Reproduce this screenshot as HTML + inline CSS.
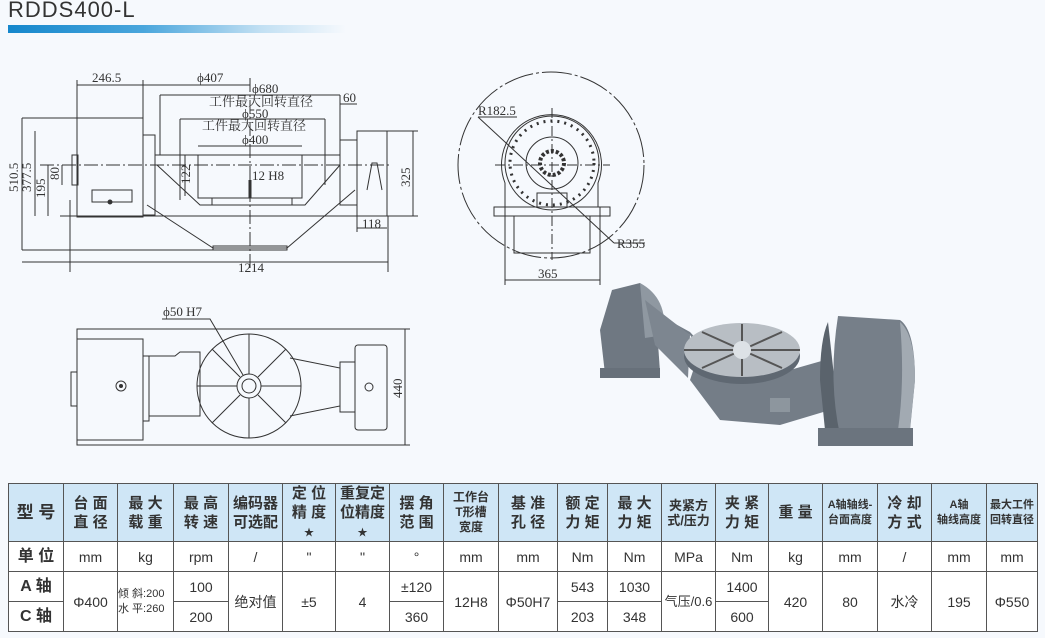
<!DOCTYPE html>
<html><head><meta charset="utf-8"><style>
html,body{margin:0;padding:0}
body{width:1045px;height:638px;background:#f6f9fd;position:relative;overflow:hidden;font-family:"Liberation Sans","Noto Sans CJK SC",sans-serif;color:#333}
.t{position:absolute;left:8px;top:-3px;font-size:22px;letter-spacing:1px;color:#333}
.bar{position:absolute;left:8px;top:25px;width:338px;height:8px;background:linear-gradient(90deg,#1587cc 0%,#4aa6dc 40%,#c2e0f3 75%,#f6f9fd 100%)}
svg{position:absolute;left:0;top:0}
table{position:absolute;left:8px;top:483px;border-collapse:collapse;table-layout:fixed}
td{border:1px solid #555;text-align:center;padding:0;font-size:14px;line-height:16px;color:#333;overflow:hidden;white-space:nowrap}
tr.h td{background:#cfe6f6;font-weight:bold;font-size:15px;height:57px;line-height:19px}
tr.h td.s{font-size:12px;line-height:15px}
.st{font-size:10px;line-height:10px}
td.f{background:#cfe6f6;font-weight:bold;font-size:16px}
tr.u td{height:29px;background:#fff}
tr.a td,tr.c td{height:29px;background:#fff}
</style></head><body>
<div class="t">RDDS400-L</div><div class="bar"></div>
<svg width="1045" height="480" viewBox="0 0 1045 480" fill="none" stroke="#333" stroke-width="1" font-family="Liberation Serif,Noto Serif CJK SC,serif" font-size="13">
<!-- front view -->
<g>
<rect x="77" y="118" width="66" height="99"/>
<rect x="72" y="155" width="6" height="30"/>
<rect x="92" y="190" width="40" height="12"/>
<circle cx="110" cy="202" r="2" fill="#333"/>
<rect x="143" y="135" width="12" height="80"/>
<line x1="155" y1="155" x2="340" y2="155"/>
<path d="M157 165 L200 205 L305 205 L340 165"/>
<path d="M147 205 L213 248 L287 248 L355 190"/>
<rect x="213" y="246" width="74" height="4"/>
<rect x="198" y="155" width="104" height="43"/>
<rect x="212" y="198" width="80" height="7"/>
<rect x="340" y="140" width="17" height="65"/>
<rect x="357" y="131" width="30" height="85"/>
<path d="M367 190 L372 163 L377 163 L382 190"/>
<line x1="60" y1="216" x2="418" y2="216"/>
<line x1="40" y1="165" x2="390" y2="165" stroke-dasharray="14 3 2 3"/>
<line x1="250" y1="78" x2="250" y2="272" stroke-dasharray="14 3 2 3"/>
<line x1="250" y1="180" x2="250" y2="198" stroke-width="3"/>
<line x1="77" y1="85" x2="143" y2="85"/><line x1="77" y1="80" x2="77" y2="118"/>
<line x1="143" y1="80" x2="143" y2="135"/>
<line x1="143" y1="85" x2="250" y2="85"/>
<line x1="160" y1="95" x2="340" y2="95"/><line x1="160" y1="95" x2="160" y2="155"/><line x1="340" y1="95" x2="340" y2="140"/>
<line x1="180" y1="119" x2="325" y2="119"/><line x1="180" y1="119" x2="180" y2="200"/><line x1="325" y1="119" x2="325" y2="185"/>
<line x1="198" y1="146" x2="302" y2="146"/>
<line x1="340" y1="104" x2="357" y2="104"/>
<line x1="22" y1="118" x2="77" y2="118"/>
<line x1="22" y1="250" x2="213" y2="250"/>
<line x1="22" y1="118" x2="22" y2="250"/><line x1="35" y1="131" x2="35" y2="216"/><line x1="48" y1="165" x2="48" y2="216"/><line x1="62" y1="165" x2="62" y2="185"/>
<line x1="185" y1="155" x2="185" y2="196"/>
<line x1="22" y1="262" x2="388" y2="262"/><line x1="388" y1="216" x2="388" y2="272"/><line x1="70" y1="200" x2="70" y2="272"/>
<line x1="413" y1="131" x2="413" y2="216"/><line x1="387" y1="131" x2="418" y2="131"/>
<line x1="357" y1="228" x2="387" y2="228"/><line x1="357" y1="216" x2="357" y2="232"/>
<g fill="#333" stroke="none">
<text x="92" y="82">246.5</text><text x="197" y="82">ϕ407</text><text x="252" y="93">ϕ680</text>
<text x="209" y="106">工件最大回转直径</text><text x="242" y="118">ϕ550</text>
<text x="202" y="130">工件最大回转直径</text><text x="242" y="144">ϕ400</text>
<text x="252" y="180">12 H8</text><text x="343" y="102">60</text>
<text x="238" y="272">1214</text><text x="362" y="228">118</text>
<text transform="translate(18,192) rotate(-90)">510.5</text>
<text transform="translate(31,192) rotate(-90)">377.5</text>
<text transform="translate(45,198) rotate(-90)">195</text>
<text transform="translate(59,180) rotate(-90)">80</text>
<text transform="translate(190,184) rotate(-90)">122</text>
<text transform="translate(410,187) rotate(-90)">325</text>
</g>
</g>
<!-- side view circle -->
<g>
<circle cx="551" cy="165" r="93" stroke-dasharray="30 3 3 3"/>
<path d="M505 183 A50 50 0 1 1 598 183 L598 207 L505 207 Z"/>
<circle cx="552" cy="163" r="47"/>
<circle cx="552" cy="163" r="26"/>
<circle cx="552" cy="163" r="42" stroke-dasharray="2 5" stroke-width="3"/>
<circle cx="552" cy="163" r="12" stroke-width="4" stroke-dasharray="3 2"/>
<rect x="494" y="207" width="116" height="9"/>
<rect x="514" y="216" width="76" height="37"/>
<rect x="537" y="193" width="30" height="14"/>
<line x1="495" y1="165" x2="610" y2="165" stroke-dasharray="10 3 2 3"/>
<line x1="552" y1="108" x2="552" y2="260" stroke-dasharray="10 3 2 3"/>
<line x1="478" y1="117" x2="614" y2="243"/><line x1="478" y1="117" x2="517" y2="117"/><line x1="614" y1="243" x2="645" y2="243"/>
<line x1="505" y1="207" x2="505" y2="285"/><line x1="600" y1="207" x2="600" y2="285"/>
<line x1="505" y1="280" x2="600" y2="280"/>
<g fill="#333" stroke="none"><text x="478" y="115">R182.5</text><text x="617" y="248">R355</text><text x="538" y="278">365</text></g>
</g>
<!-- plan view -->
<g>
<rect x="77" y="329" width="328" height="116"/>
<rect x="77" y="339" width="66" height="101"/>
<rect x="71" y="372" width="6" height="34"/>
<circle cx="121" cy="386" r="5"/><circle cx="121" cy="386" r="1.5" fill="#333"/>
<rect x="143" y="356" width="6" height="65"/>
<path d="M149 356 L175 356 L180 352 L200 352 L200 416 L149 416"/>
<path d="M290 358 L340 368 L340 406 L290 416"/>
<circle cx="249" cy="386" r="52"/>
<circle cx="249" cy="386" r="12"/><circle cx="249" cy="386" r="7"/>
<path d="M249 334 V374 M249 398 V438 M197 386 H237 M261 386 H301 M212 349 L240 377 M286 349 L258 377 M212 423 L240 395 M286 423 L258 395"/>
<rect x="340" y="362" width="15" height="50"/>
<rect x="355" y="345" width="32" height="85" rx="3"/>
<circle cx="369" cy="387" r="4"/>
<line x1="387" y1="329" x2="410" y2="329"/><line x1="387" y1="445" x2="410" y2="445"/><line x1="405" y1="329" x2="405" y2="445"/>
<path d="M162 319 L210 319 L243 375"/>
<g fill="#333" stroke="none"><text x="163" y="316">ϕ50 H7</text><text transform="translate(402,398) rotate(-90)">440</text></g>
</g>
<!-- 3D render -->
<g stroke="none">
<path d="M612 290 L640 283 L655 300 L660 372 L605 374 L600 330 Z" fill="#6f7882"/>
<path d="M640 283 Q668 298 664 335 L645 338 Z" fill="#8f98a1"/>
<path d="M650 310 L690 335 L700 350 L690 380 L720 420 L780 425 L830 410 L825 360 L790 370 L720 365 L690 332 Z" fill="#747d87"/>
<path d="M645 300 L690 335 L688 378 L655 345 Z" fill="#7d8690"/>
<ellipse cx="742" cy="356" rx="58" ry="28" fill="#5f6872"/>
<ellipse cx="742" cy="350" rx="58" ry="27" fill="#b8bec4"/>
<path d="M742 324 V376 M684 350 H800 M702 332 L782 368 M782 332 L702 368" stroke="#555" stroke-width="2"/>
<circle cx="742" cy="350" r="9" fill="#dde2e6"/>
<rect x="770" y="398" width="20" height="14" fill="#8d969e"/>
<path d="M828 322 Q820 340 820 380 L825 430 L840 430 Z" fill="#5a636c"/>
<path d="M838 316 L900 320 Q915 330 915 380 L910 430 L840 435 Q828 380 838 316 Z" fill="#767f89"/>
<path d="M900 322 Q915 335 915 380 L910 428 L898 430 Q905 380 900 322 Z" fill="#a2aab2"/>
<rect x="818" y="428" width="95" height="18" fill="#6b747e"/>
<rect x="600" y="368" width="60" height="10" fill="#67707a"/>
</g>
</svg>
<table>
<colgroup>
<col style="width:55px"><col style="width:54px"><col style="width:56px"><col style="width:55px"><col style="width:54px"><col style="width:53px"><col style="width:54px"><col style="width:54px"><col style="width:55px"><col style="width:59px"><col style="width:50px"><col style="width:54px"><col style="width:54px"><col style="width:53px"><col style="width:54px"><col style="width:55px"><col style="width:54px"><col style="width:55px"><col style="width:51px">
</colgroup>
<tr class="h"><td style="font-size:17px">型 号</td><td>台 面<br>直 径</td><td>最 大<br>载 重</td><td>最 高<br>转 速</td><td>编码器<br>可选配</td><td>定 位<br>精 度<br><span class="st">★</span></td><td>重复定<br>位精度<br><span class="st">★</span></td><td>摆 角<br>范 围</td><td class="s">工作台<br>T形槽<br>宽度</td><td>基 准<br>孔 径</td><td>额 定<br>力 矩</td><td>最 大<br>力 矩</td><td class="s" style="font-size:13px">夹紧方<br>式/压力</td><td>夹 紧<br>力 矩</td><td>重 量</td><td class="s" style="font-size:11px">A轴轴线-<br>台面高度</td><td>冷 却<br>方 式</td><td class="s" style="font-size:11px">A轴<br>轴线高度</td><td class="s" style="font-size:11px">最大工件<br>回转直径</td></tr>
<tr class="u"><td class="f">单 位</td><td>mm</td><td>kg</td><td>rpm</td><td>/</td><td>"</td><td>''</td><td>°</td><td>mm</td><td>mm</td><td>Nm</td><td>Nm</td><td>MPa</td><td>Nm</td><td>kg</td><td>mm</td><td>/</td><td>mm</td><td>mm</td></tr>
<tr class="a"><td class="f">A 轴</td><td rowspan="2">Φ400</td><td rowspan="2" style="font-size:11px;line-height:15px;text-align:left">倾 斜:200<br>水 平:260</td><td>100</td><td rowspan="2">绝对值</td><td rowspan="2">±5</td><td rowspan="2">4</td><td>±120</td><td rowspan="2">12H8</td><td rowspan="2">Φ50H7</td><td>543</td><td>1030</td><td rowspan="2" style="font-size:13px">气压/0.6</td><td>1400</td><td rowspan="2">420</td><td rowspan="2">80</td><td rowspan="2">水冷</td><td rowspan="2">195</td><td rowspan="2">Φ550</td></tr>
<tr class="c"><td class="f">C 轴</td><td>200</td><td>360</td><td>203</td><td>348</td><td>600</td></tr>
</table>
</body></html>
